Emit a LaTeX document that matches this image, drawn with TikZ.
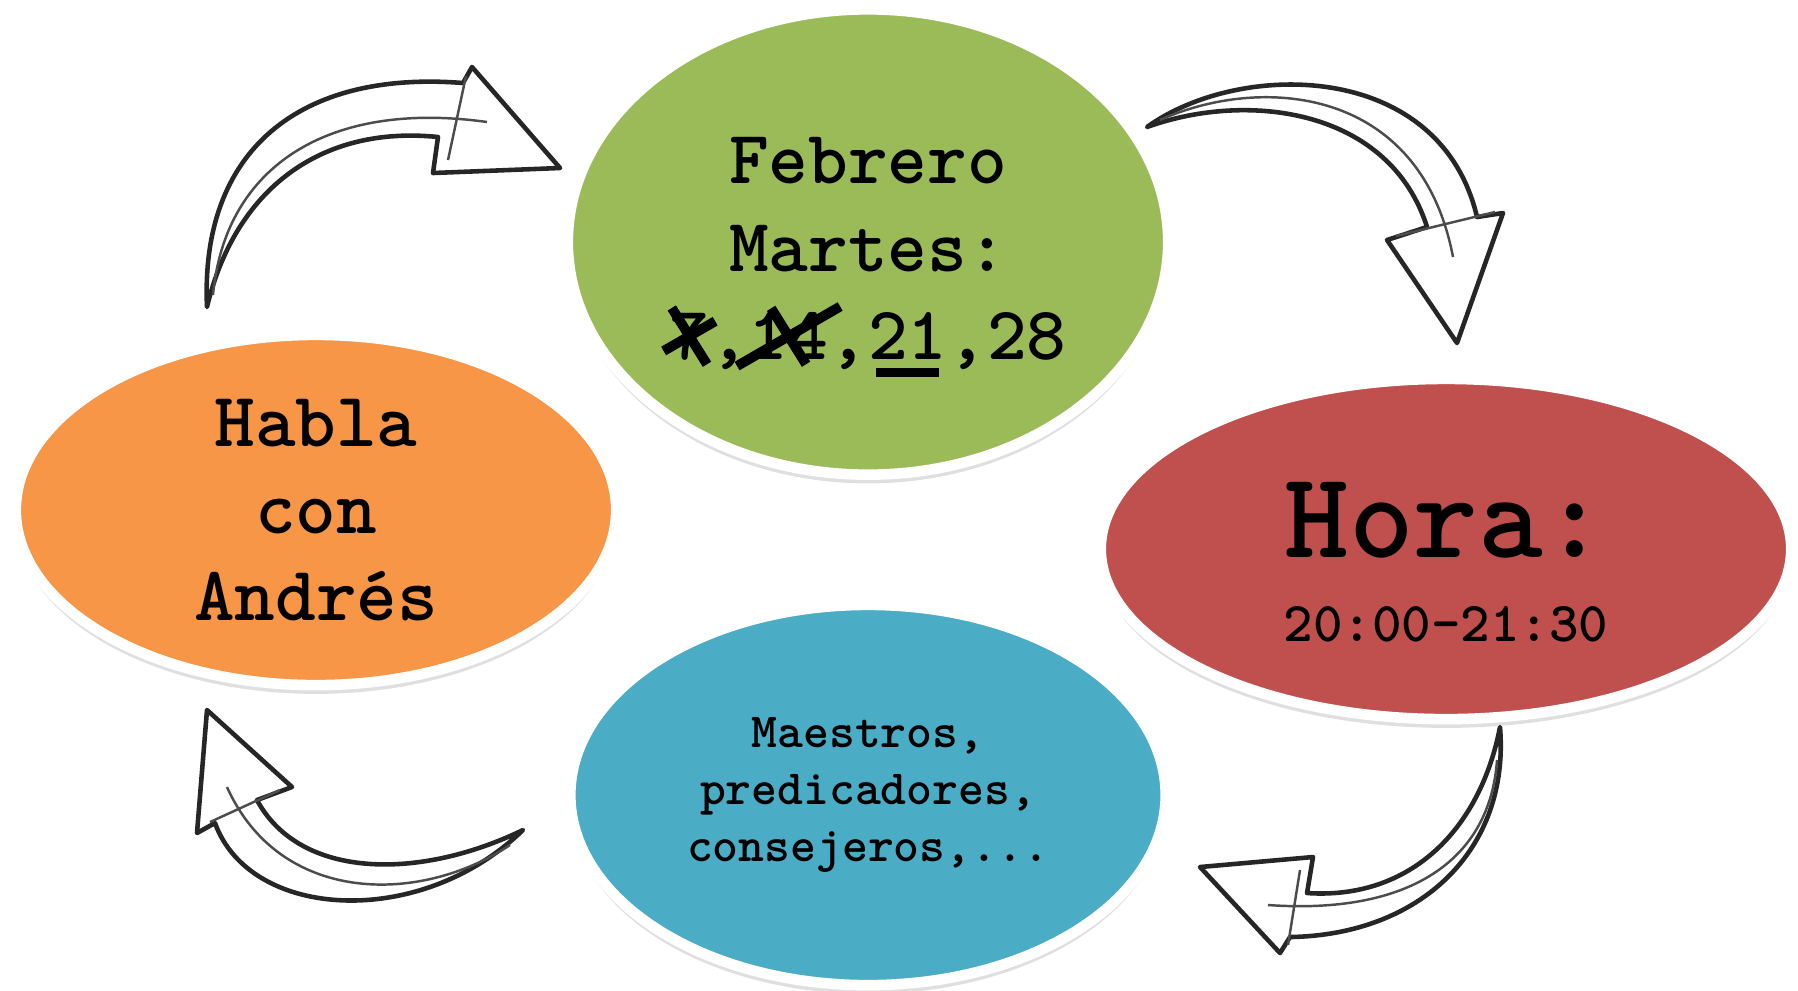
\documentclass[tikz,border=0pt]{standalone}
\usepackage{tikz}
\usetikzlibrary{shapes.geometric,shadows}
\definecolor{verde}{HTML}{9BBB59}
\definecolor{naranja}{HTML}{F79646}
\definecolor{rojo}{HTML}{C0504D}
\definecolor{azul}{HTML}{4BACC6}
\newcommand{\raya}[2]{\rlap{\hbox to\wd0{\hss\raisebox{.5\ht0}{\makebox[0pt]{%
  \rotatebox[origin=c]{#1}{\rule[-1.4pt]{#2}{2.8pt}}}}\hss}}}
\newcommand{\tachado}[1]{\setbox0=\hbox{#1}\raya{30}{1.5\wd0}\raya{-58}{1.4\ht0}\box0}
\newcommand{\subraya}[1]{\setbox0=\hbox{#1}%
  \rlap{\hbox to\wd0{\hss\raisebox{-5pt}{\rule{.8\wd0}{2.6pt}}\hss}}\box0}
\begin{document}
\begin{tikzpicture}[x=0.01cm, y=-0.01cm,
  circulo/.style={ellipse, draw=white, line width=3pt, inner sep=0pt, align=center,
    drop shadow={shadow xshift=0pt, shadow yshift=-2.5pt, opacity=.25}},
  letra/.style n args={2}{font=\ttfamily\bfseries\fontsize{#1}{#2}\selectfont},
  flecha/.style={draw=black!85, line width=1.3pt, fill=white, line join=round},
  trazo/.style={draw=black!70, line width=.7pt}]
\useasboundingbox (0,0) rectangle (1798,990);

\node[circulo, fill=verde, minimum width=6cm, minimum height=4.65cm, letra={21.5}{25}] (f) at (868,242)
  {\rule{0pt}{22pt}Febrero\\Martes:\\\tachado{7},\tachado{14},\subraya{21},28};
\node[circulo, fill=rojo, minimum width=6.9cm, minimum height=3.4cm, letra={35}{38}] (h) at (1446,549)
  {\rule{0pt}{29pt}Hora:\\[-14pt]\fontsize{16}{19}\selectfont 20:00-21:30};
\node[circulo, fill=azul, minimum width=5.95cm, minimum height=3.8cm, letra={14}{16.3}] (m) at (868,795)
  {Maestros,\\predicadores,\\consejeros,...};
\node[circulo, fill=naranja, minimum width=6cm, minimum height=3.5cm, letra={22}{24.7}] (a) at (316,510)
  {Habla\\con\\Andrés};

\coordinate (a1) at (207,307);  \coordinate (f1) at (560,168);
\coordinate (f2) at (1147,127); \coordinate (h2) at (1457,343);
\coordinate (h3) at (1500,727); \coordinate (m3) at (1200,867);
\coordinate (m4) at (523,830);  \coordinate (a4) at (207,710);

\path[flecha] (a1) .. controls (200,150) and (300,70) .. (463,83) -- (472,67) -- (f1)
  -- (433,173) -- (438,137) .. controls (320,125) and (235,190) .. (a1) -- cycle;
\path[trazo] (213,295) .. controls (225,165) and (330,100) .. (487,122)
  (466,76) -- (448,160);
\path[flecha] (f2) .. controls (1240,60) and (1440,60) .. (1477,217) -- (1503,213) -- (h2)
  -- (1387,240) -- (1427,227) .. controls (1390,110) and (1250,90) .. (f2) -- cycle;
\path[trazo] (1160,120) .. controls (1260,75) and (1420,85) .. (1453,257)
  (1396,236) -- (1495,212);
\path[flecha] (h3) .. controls (1510,850) and (1420,935) .. (1290,937) -- (1280,953) -- (m3)
  -- (1313,857) -- (1307,893) .. controls (1410,900) and (1480,830) .. (h3) -- cycle;
\path[trazo] (1497,760) .. controls (1490,860) and (1410,915) .. (1268,905)
  (1300,870) -- (1288,945);
\path[flecha] (m4) .. controls (420,880) and (300,880) .. (257,800) -- (292,787) -- (a4)
  -- (197,833) -- (215,823) .. controls (250,920) and (420,930) .. (m4) -- cycle;
\path[trazo] (510,845) .. controls (420,905) and (280,905) .. (227,787)
  (280,790) -- (210,822);
\end{tikzpicture}
\end{document}
